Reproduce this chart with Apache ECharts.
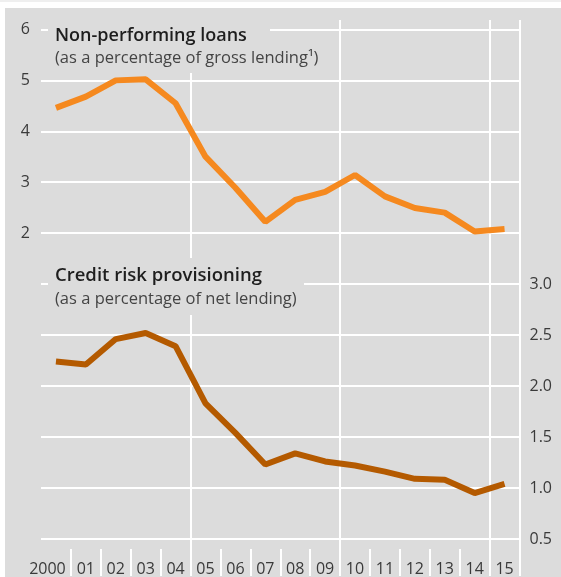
<!DOCTYPE html>
<html>
<head>
<meta charset="utf-8">
<script src="https://cdn.jsdelivr.net/npm/echarts@6/dist/echarts.min.js"></script>
<style>
  body { margin: 0; background: #fff; }
  .strip { position: absolute; left: 0; top: 0; width: 561px; height: 2px; background: #efefef; }
  .panel { position: absolute; left: 5px; top: 8px; width: 556px; height: 569px; background: #dcdcdc; }
  #chart { position: absolute; left: 0; top: 0; width: 561px; height: 577px; }
</style>
</head>
<body>
<div class="strip"></div>
<div class="panel"></div>
<div id="chart"></div>
<script>
// years on the x axis
const years = ["2000", "01", "02", "03", "04", "05", "06", "07", "08", "09", "10", "11", "12", "13", "14", "15"];
// non-performing loans, % of gross lending
const nplValues = [4.46, 4.68, 5.0, 5.02, 4.55, 3.5, 2.89, 2.22, 2.65, 2.81, 3.14, 2.72, 2.49, 2.4, 2.03, 2.08];
// credit risk provisioning, % of net lending
const provValues = [2.24, 2.21, 2.46, 2.52, 2.39, 1.83, 1.54, 1.23, 1.34, 1.26, 1.22, 1.16, 1.09, 1.08, 0.95, 1.04];
// axis ranges
const nplAxis = { min: 2, max: 6, interval: 1 };
const provAxis = { min: 0.5, max: 3, interval: 0.5 };

const GRAY = "#dcdcdc";
const FONT = "'Open Sans', 'Noto Sans', sans-serif";
const labelStyle = { color: "#3a3a3a", fontSize: 16, fontFamily: FONT };
const whiteSplit = { show: true, lineStyle: { color: "#fff", width: 2 } };

let myChart = echarts.init(document.getElementById("chart"), null, { renderer: "canvas" });

let hiddenX = (gridIndex) => ({
  type: "category",
  gridIndex,
  data: years,
  show: false,
  boundaryGap: true,
});

myChart.setOption({
  animation: false,
  backgroundColor: "transparent",
  grid: [
    { left: 41, right: 41.5, top: 29.5, height: 203.5 },
    { left: 41, right: 41.5, top: 284, height: 255 },
    { left: 41, right: 41.5, top: 20, bottom: 27 },
  ],
  xAxis: [
    hiddenX(0),
    hiddenX(1),
    {
      type: "category",
      gridIndex: 2,
      data: years,
      boundaryGap: true,
      axisLine: { show: false },
      axisTick: {
        show: true,
        length: 27,
        interval: (idx) => idx > 0,
        lineStyle: { color: "#fff", width: 2 },
      },
      splitLine: {
        show: true,
        interval: (idx) => idx > 0 && idx % 5 === 0,
        lineStyle: { color: "#fff", width: 2 },
      },
      axisLabel: {
        ...labelStyle,
        interval: 0,
        margin: 12,
        formatter: (v, i) => (i === 0 ? "{first|" + v + "}" : v),
        rich: { first: { ...labelStyle, padding: [0, 17, 0, 0] } },
      },
    },
  ],
  yAxis: [
    {
      type: "value",
      gridIndex: 0,
      position: "left",
      ...nplAxis,
      axisLine: { show: false },
      axisTick: { show: false },
      splitLine: whiteSplit,
      axisLabel: { ...labelStyle, margin: 11 },
    },
    {
      type: "value",
      gridIndex: 1,
      position: "right",
      ...provAxis,
      axisLine: { show: false },
      axisTick: { show: false },
      splitLine: whiteSplit,
      axisLabel: { ...labelStyle, margin: 10, formatter: (v) => v.toFixed(1) },
    },
    { type: "value", gridIndex: 2, show: false, splitLine: { show: false } },
  ],
  series: [
    {
      name: "Non-performing loans",
      type: "line",
      xAxisIndex: 0,
      yAxisIndex: 0,
      data: nplValues,
      showSymbol: false,
      lineStyle: { color: "#f5891f", width: 6 },
      z: 5,
    },
    {
      name: "Credit risk provisioning",
      type: "line",
      xAxisIndex: 1,
      yAxisIndex: 1,
      data: provValues,
      showSymbol: false,
      lineStyle: { color: "#b45a00", width: 6 },
      z: 5,
    },
  ],
  graphic: [
    // boxes that cut the gridlines behind the titles
    { type: "rect", z: 50, shape: { x: 48, y: 18, width: 222, height: 22 }, style: { fill: GRAY } },
    { type: "rect", z: 50, shape: { x: 48, y: 40, width: 278, height: 33 }, style: { fill: GRAY } },
    { type: "rect", z: 50, shape: { x: 48, y: 258, width: 256, height: 57 }, style: { fill: GRAY } },
    {
      type: "text", z: 60, x: 55, y: 36,
      style: { text: "Non-performing loans", fill: "#1e1e1e", font: "600 18px " + FONT, verticalAlign: "middle" },
    },
    {
      type: "text", z: 60, x: 55, y: 58,
      style: { text: "(as a percentage of gross lending\u00b9)", fill: "#444", font: "16.5px " + FONT, verticalAlign: "middle" },
    },
    {
      type: "text", z: 60, x: 55, y: 276,
      style: { text: "Credit risk provisioning", fill: "#1e1e1e", font: "600 18.5px " + FONT, verticalAlign: "middle" },
    },
    {
      type: "text", z: 60, x: 55, y: 299,
      style: { text: "(as a percentage of net lending)", fill: "#444", font: "16.5px " + FONT, verticalAlign: "middle" },
    },
  ],
});
</script>
</body>
</html>
